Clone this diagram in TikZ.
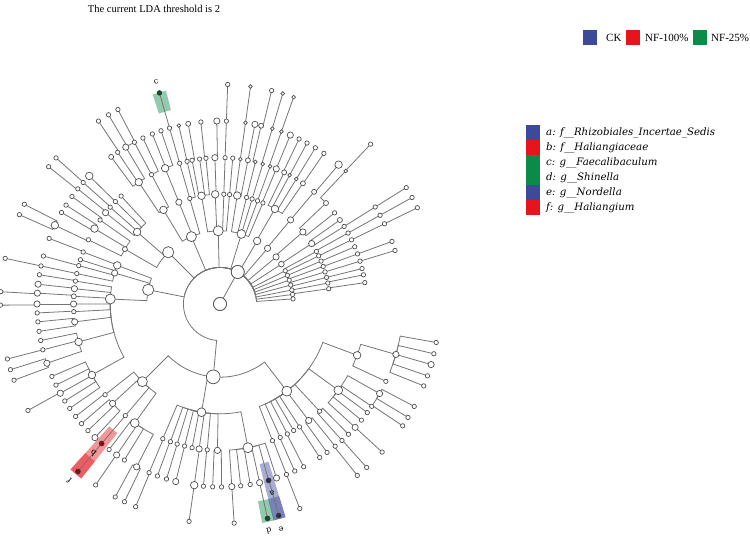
\documentclass[tikz,border=0pt]{standalone}
\usepackage{fontspec}
\setmainfont{Liberation Serif}
\newfontfamily\cladefont{DejaVu Serif}
\usepackage{xcolor}
\definecolor{ckblue}{HTML}{3D4A9A}
\definecolor{nfred}{HTML}{E8141B}
\definecolor{nfgreen}{HTML}{0C8A48}
\definecolor{branchgray}{HTML}{757575}
\definecolor{rimgray}{HTML}{4F4F4F}
\newcommand\levelstep{36.6}
% angle/level/parent angle/size
\def\cladedata{91.4/2/61/8, 73/2/61/7, 59.5/2/61/6, 49.5/2/61/5, 40/2/61/5, 33/2/61/4.5,
27/2/61/3.5, 23/2/61/3.5, 19/2/61/3.5, 15/2/61/3.5, 11/2/61/3.5, 7.5/2/61/3.5, 4/2/61/3.5,
113/2/61/8, 135/2/61/9, 168.8/2/61/9, 264.7/2/61/11,
33.4/3/33/5, 28.6/3/27/3.5, 26/3/23/3.5, 23/3/19/3.5, 20/3/15/3.5, 17/3/11/3.5, 14/3/11/3.5,
11/3/7.5/3.5, 8/3/4/3.5, 41/3/40/5, 50/3/49.5/5, 60/3/59.5/6,
67/3/73/3.5, 70/3/73/3.5, 73/3/73/3.5, 76/3/73/3.5, 81/3/73/6,
92.5/3/91.4/6, 88/3/91.4/3.5, 85/3/91.4/3.5, 99.7/3/91.4/6,
106/3/113/3.5, 112/3/113/5, 121/3/113/6, 139/3/135/6, 150/3/135/4,
159.4/3/168.8/6, 163.6/3/168.8/5, 177.4/3/168.8/8,
225/3/264.7/8, 260.3/3/264.7/7, 307.5/3/264.7/8,
35/4/33.4/4, 32/4/33.4/3.5, 29/4/28.6/3.5, 26/4/26/3.5, 23/4/23/3.5, 20/4/20/3.5, 17/4/17/3.5,
14/4/14/3.5, 11.5/4/11/3.5, 8.4/4/8/3.5, 38.5/4/41/3.5, 43.6/4/41/4, 50/4/50/4,
55.5/4/60/4, 58.6/4/60/3, 61.6/4/60/3, 64/4/60/4,
67.4/4/67/5, 70/4/70/3, 73/4/73/3, 76/4/76/3, 79/4/81/4, 82/4/81/3,
92/4/92.5/5, 88/4/88/3.5, 85/4/85/3.5, 95.5/4/99.7/3.5, 98/4/99.7/3.5, 101/4/99.7/3.5,
103/4/106/3.5, 106/4/106/3.5, 112/4/112/6, 117.9/4/121/3.5, 123.7/4/121/6,
132.5/4/139/3.5, 135.6/4/139/3.5, 138.6/4/139/3.5, 141.4/4/139/5,
145/4/150/3.5, 149/4/150/6, 154/4/150/3.5,
159.2/4/159.4/3.5, 162.4/4/159.4/3.5, 164.8/4/163.6/3.5, 168/4/163.6/3.5,
171/4/177.4/3.5, 174/4/177.4/5, 177/4/177.4/4, 180/4/177.4/5, 183/4/177.4/3.5, 187/4/177.4/5,
195/4/177.4/6, 209/4/177.4/6,
218.3/4/225/3.5, 222.8/4/225/5, 229.7/4/225/3.5, 234.4/4/225/7,
247/4/260.3/3.5, 250.2/4/260.3/3.5, 253/4/260.3/3.5, 256/4/260.3/3.5, 259/4/260.3/3.5,
261.8/4/260.3/5, 265/4/260.3/3.5, 269/4/260.3/5, 281/4/260.3/8,
291/4/307.5/3.5, 294.3/4/307.5/3.5, 297.4/4/307.5/3.5, 300.2/4/307.5/3.5, 302.9/4/307.5/3.5,
307.3/4/307.5/5, 312.9/4/307.5/3.5, 323.9/4/307.5/7, 339.5/4/307.5/6,
32/5/32/3.5, 29/5/29/3.5, 26/5/26/3.5, 20/5/20/3.5, 17/5/17/3.5, 46.6/5/43.6/3, 49.6/5/50/6,
55.4/5/55.5/3.5, 58.6/5/58.6/3.5, 61.6/5/61.6/3.5, 64.4/5/64/3.5,
67.4/5/67.4/5, 70.4/5/70/3, 73.4/5/73/3, 77/5/76/4, 79/5/79/5, 82/5/82/3,
91/5/92/5, 88/5/88/3.5, 96/5/95.5/3.5, 100/5/101/4, 103/5/103/3, 106/5/106/3.5,
108.8/5/112/3.5, 111.7/5/112/3.5, 114.9/5/117.9/3.5, 117.9/5/117.9/3.5,
121/5/123.7/5, 124/5/123.7/3.5, 126.5/5/123.7/4,
135.6/5/135.6/6, 138.4/5/138.6/3.5, 141/5/141.4/3.5,
144/5/145/3.5, 147.3/5/149/3.5, 150/5/149/3.5, 154.5/5/154/6,
159/5/159.2/3.5, 164.8/5/164.8/3.5, 168/5/168/3.5,
170.8/5/171/3.5, 173.8/5/174/5, 176.6/5/177/5, 180/5/180/5, 182.8/5/183/3.5,
185.6/5/187/3.5, 188.6/5/187/3.5, 191.5/5/195/3.5, 194.5/5/195/3.5, 198.9/5/195/5,
203.3/5/209/3.5, 206.3/5/209/3.5, 209.2/5/209/5, 212/5/209/3.5, 214.8/5/209/3.5,
217.9/5/218.3/3.5, 220.8/5/222.8/3.5, 223.8/5/222.8/3.5, 226.9/5/222.8/5, 229.7/5/229.7/4,
232.7/5/234.4/3.5, 235.6/5/234.4/5, 238.5/5/234.4/3.5, 242.9/5/234.4/5,
247.2/5/247/3.5, 250/5/250.2/3.5, 253/5/253/3.5, 256/5/256/5, 261.9/5/261.8/6,
264.8/5/265/3.5, 267.7/5/269/3.5, 270.5/5/269/3.5,
273.7/5/281/5, 276.5/5/281/3.5, 279.5/5/281/3.5, 282.5/5/281/5, 285.4/5/281/4, 288/5/281/5,
291.3/5/291/3.5, 294.1/5/294.3/3.5, 297.2/5/297.4/3.5, 303/5/302.9/3.5, 305.8/5/307.3/3.5,
309/5/307.3/3.5, 311.8/5/312.9/3.5, 314.6/5/312.9/3.5,
317.6/5/323.9/5, 320.6/5/323.9/3.5, 323.6/5/323.9/3.5, 326/5/323.9/3.5, 330.7/5/323.9/5,
335/5/339.5/3.5, 344/5/339.5/5,
32/6/32/3.5, 29/6/29/3.5, 26/6/26/3.5, 46.7/6/46.6/3.5,
70.4/6/70.4/3, 73.4/6/73.4/3, 76.4/6/77/3.5, 82/6/82/3, 88/6/88/3.5, 106/6/106/3.5,
117.7/6/121/3.5, 120.5/6/121/3.5, 123.6/6/124/3.5, 138.3/6/138.4/3.5, 141.3/6/141/3.5,
153/6/154.5/3.5, 156/6/154.5/3.5, 168/6/168/3.5, 176.8/6/176.6/3.5, 180.3/6/180/3.5,
194.5/6/194.5/3.5, 197.4/6/198.9/3.5, 200.3/6/198.9/3.5, 209/6/209.2/3.5, 229.7/6/229.7/4,
235.5/6/235.6/3.5, 241.5/6/242.9/3.5, 244.2/6/242.9/3.5, 247.4/6/247.2/3.5,
261.9/6/261.9/3.5, 273.7/6/273.7/3.5, 282.5/6/282.5/4, 285.5/6/285.4/4, 291.3/6/291.3/3.5,
308.7/6/309/3.5, 311.9/6/311.8/3.5, 317.6/6/317.6/3.5,
326.3/6/330.7/3.5, 328.9/6/330.7/3.5, 332.2/6/330.7/3.5,
338.1/6/344/3.5, 340.9/6/344/3.5, 344/6/344/5, 346.9/6/344/3.5, 349.9/6/344/3.5}
% shaded wedge behind a marked clade
\newcommand\cladeband[5]{\fill[#1, fill opacity=0.45] (#2:#4) arc[start angle=#2, end angle=#3, radius=#4]
  -- (#3:#5) arc[start angle=#3, end angle=#2, radius=#5] -- cycle;}

\begin{document}
\begin{tikzpicture}[x=1pt,y=1pt]
\tikzset{branch/.style={draw=branchgray, line width=0.8pt}}
\tikzset{taxon/.style={circle, draw=rimgray, fill=white, line width=0.7pt, inner sep=0pt}}
\tikzset{marker/.style={circle, draw=black!80, line width=0.5pt, inner sep=0pt, minimum size=4.5pt}}
\tikzset{markletter/.style={font=\cladefont\fontsize{8}{8}\selectfont, inner sep=0pt}}
\tikzset{legbox/.style={minimum width=14pt, minimum height=15pt, inner sep=0pt}}
\tikzset{legtext/.style={anchor=west, inner sep=0pt, font=\fontsize{11}{13}\selectfont}}
\tikzset{cladetext/.style={anchor=west, inner sep=0pt, font=\cladefont\itshape\fontsize{10.2}{12}\selectfont}}
\useasboundingbox (0,0) rectangle (750,536);

\node[font=\fontsize{10.5}{12}\selectfont] (title) at (154,527) {The current LDA threshold is 2};

% class legend
\node[legbox, fill=ckblue] (leg-ck) at (590,498.5) {};
\node[legtext] (leg-ck-text) at (606,498.5) {CK};
\node[legbox, fill=nfred] (leg-nf100) at (633,498.5) {};
\node[legtext] (leg-nf100-text) at (645,498.5) {NF-100\%};
\node[legbox, fill=nfgreen] (leg-nf25) at (700,498.5) {};
\node[legtext] (leg-nf25-text) at (711,498.5) {NF-25\%};

% clade legend
\foreach \col/\txt [count=\k from 0] in {ckblue/{a: f\_\_Rhizobiales\_Incertae\_Sedis}, nfred/{b: f\_\_Haliangiaceae},
    nfgreen/{c: g\_\_Faecalibaculum}, nfgreen/{d: g\_\_Shinella}, ckblue/{e: g\_\_Nordella}, nfred/{f: g\_\_Haliangium}} {
  \node[legbox, fill=\col] (clade-box-\k) at (533,{403-15*\k}) {};
  \node[cladetext] (clade-text-\k) at (546,{403-15*\k}) {\txt};
}

\begin{scope}[shift={(220,232)}]
% shaded clades
\cladeband{ckblue}{283.9}{287.1}{165}{223}
\cladeband{ckblue}{283.9}{287.1}{201}{223}
\cladeband{nfgreen}{280.9}{284.0}{201}{223}
\cladeband{nfred}{227.9}{231.5}{165}{223}
\cladeband{nfred}{227.9}{231.5}{201}{223}
\cladeband{nfgreen}{104.2}{107.8}{200}{220}

% branches, then taxa on top
\node[taxon, minimum size=13pt] (root) at (0,0) {};
\node[taxon, minimum size=13pt] (kingdom) at (61:\levelstep) {};
\draw[branch] (root) -- (kingdom);
\foreach \a/\l/\p/\s in \cladedata {
  \draw[branch] (\p:{\levelstep*(\l-1)}) arc[start angle=\p, end angle=\a, radius={\levelstep*(\l-1)}] -- (\a:{\levelstep*\l});
}
\node[taxon, minimum size=13pt] at (root) {};
\node[taxon, minimum size=13pt] at (kingdom) {};
\foreach \a/\l/\p/\s [count=\i] in \cladedata {
  \node[taxon, minimum size=1.25*\s pt] (taxon-\i) at (\a:{\levelstep*\l}) {};
}

% biomarkers
\node[marker, fill=nfred!60!black] (mark-b) at (229.7:{5*\levelstep}) {};
\node[marker, fill=nfred!60!black] (mark-f) at (229.7:{6*\levelstep}) {};
\node[marker, fill=ckblue!60!black] (mark-a) at (285.4:{5*\levelstep}) {};
\node[marker, fill=ckblue!60!black] (mark-e) at (285.5:{6*\levelstep}) {};
\node[marker, fill=nfgreen!60!black] (mark-d) at (282.5:{6*\levelstep}) {};
\node[marker, fill=nfgreen!60!black] (mark-c) at (106:{6*\levelstep}) {};

\node[markletter, rotate=16] (label-c) at (106:231) {c};
\node[markletter, rotate=139.7] (label-b) at (229.7:196) {b};
\node[markletter, rotate=139.5] (label-f) at (229.5:232) {f};
\node[markletter, rotate=195.4] (label-a) at (285.4:196) {a};
\node[markletter, rotate=192.2] (label-d) at (282.2:232) {d};
\node[markletter, rotate=195.2] (label-e) at (285.2:233) {e};
\end{scope}
\end{tikzpicture}
\end{document}
